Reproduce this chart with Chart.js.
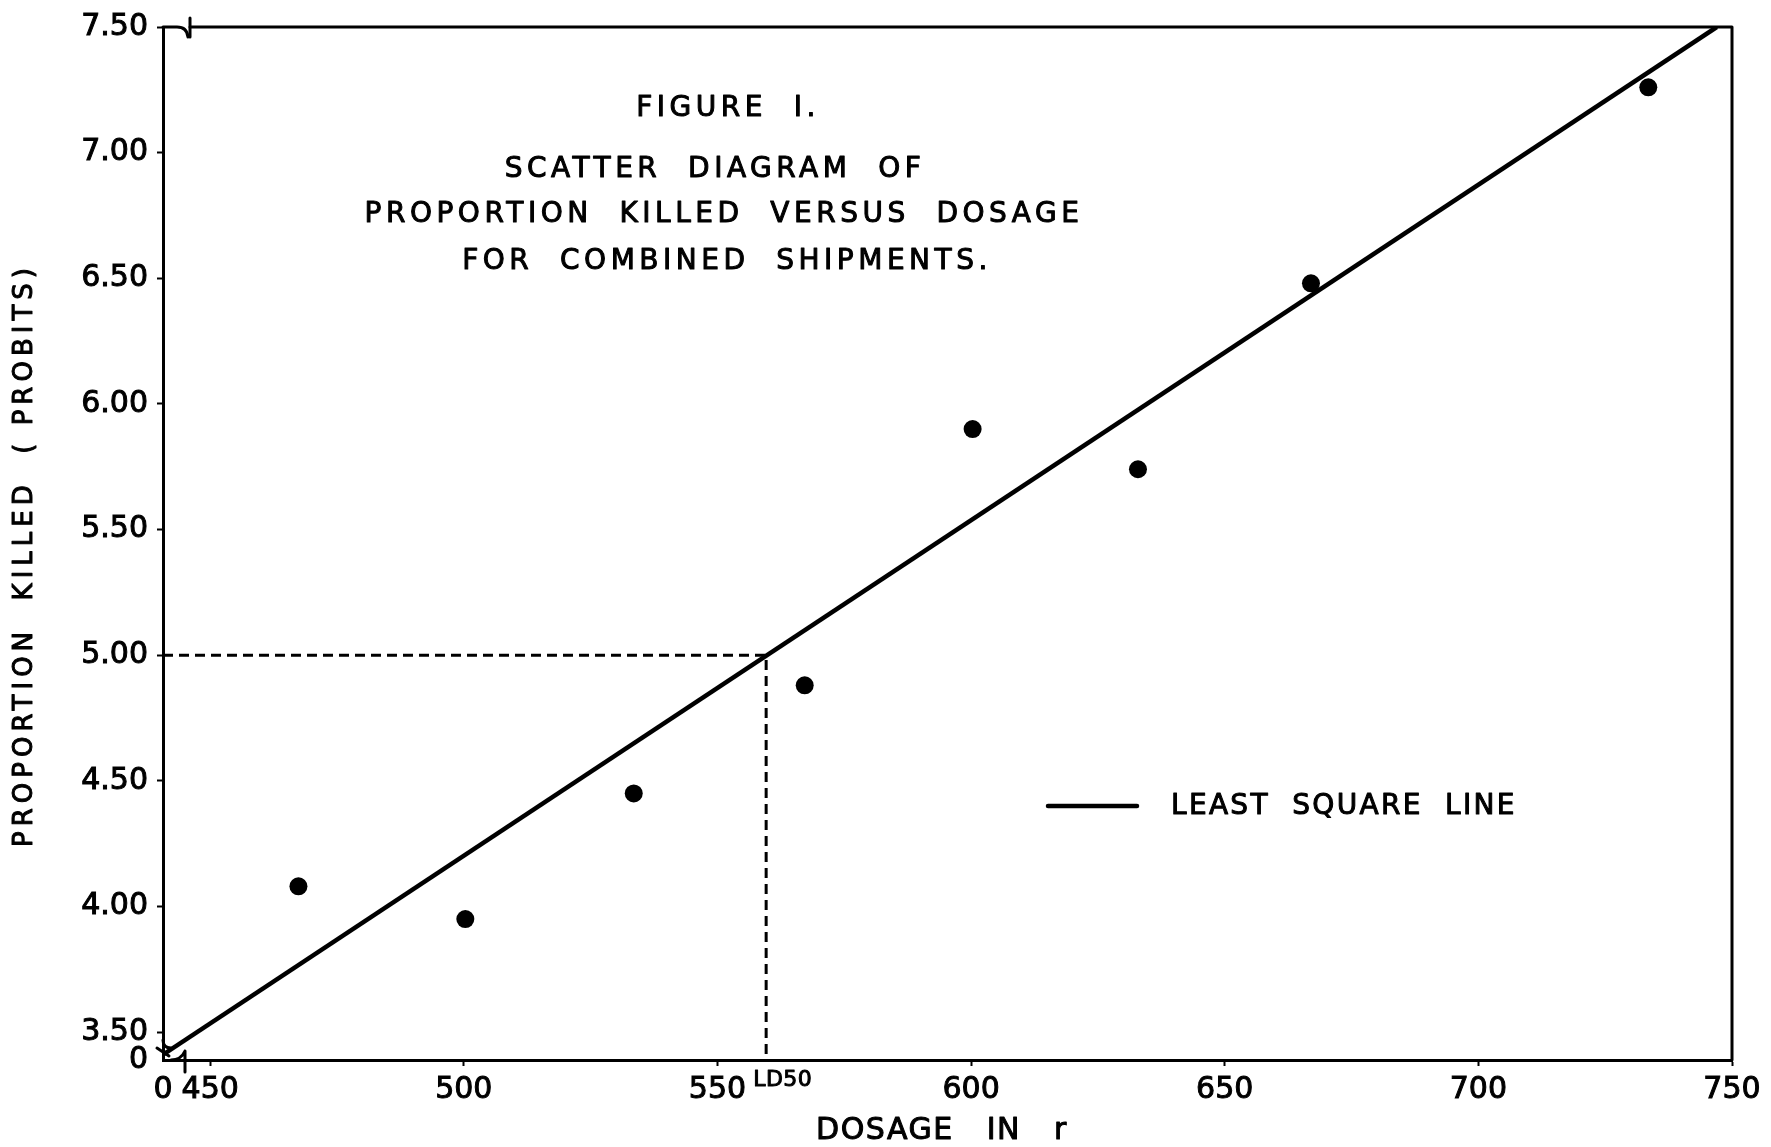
<!DOCTYPE html>
<html>
<head>
<meta charset="utf-8">
<script src="https://cdn.jsdelivr.net/npm/chart.js@4.4.1/dist/chart.umd.min.js"></script>
<style>
  html, body { margin: 0; padding: 0; background: #ffffff; }
  #wrap { position: relative; width: 1771px; height: 1147px; }
</style>
</head>
<body>
<div id="wrap"><canvas id="c" width="1771" height="1147"></canvas></div>
<script>
// ---- data ----
const dosage = [467.4, 500.3, 533.5, 567.2, 600.3, 632.9, 667.0, 733.5];
const probit = [4.08, 3.95, 4.45, 4.88, 5.90, 5.74, 6.48, 7.26];
const fitDosage = [440.7, 747.0];
const fitProbit = [3.41, 7.50];
const ld50Dosage = 559.6;
const ld50Probit = 5.00;
const xTickValues = [450, 500, 550, 600, 650, 700, 750];
const yTickValues = [3.5, 4.0, 4.5, 5.0, 5.5, 6.0, 6.5, 7.0, 7.5];
const xMin = 440.7, xMax = 750;
const yMin = 3.389, yMax = 7.5;
const titleLines = ['FIGURE  I.', 'SCATTER  DIAGRAM  OF', 'PROPORTION  KILLED  VERSUS  DOSAGE', 'FOR  COMBINED  SHIPMENTS.'];
const xAxisTitle = 'DOSAGE   IN   r';
const yAxisTitle = 'PROPORTION  KILLED  ( PROBITS)';
const legendText = 'LEAST  SQUARE  LINE';
const ld50Text = 'LD50';

const FONT = '"DejaVu Sans", "Liberation Sans", sans-serif';

function inkText(ctx, t, x, y) {
  ctx.fillText(t, x, y);
  ctx.strokeText(t, x, y);
}

const decor = {
  id: 'decor',
  afterDraw(chart) {
    const { ctx, chartArea: a, scales } = chart;
    const xs = scales.x;
    ctx.save();
    ctx.strokeStyle = '#000';
    ctx.fillStyle = '#000';
    ctx.lineWidth = 3;
    ctx.lineCap = 'round';
    ctx.lineJoin = 'round';

    // top + right frame
    ctx.beginPath();
    ctx.moveTo(a.left + 27, a.top);
    ctx.lineTo(a.right, a.top);
    ctx.lineTo(a.right, a.bottom);
    ctx.stroke();
    // break mark on top frame
    ctx.beginPath();
    ctx.moveTo(a.left, a.top);
    ctx.lineTo(a.left + 14, a.top);
    ctx.quadraticCurveTo(a.left + 24, a.top, a.left + 25, a.top + 10);
    ctx.stroke();
    ctx.beginPath();
    ctx.moveTo(a.left + 27, a.top - 9);
    ctx.lineTo(a.left + 27, a.top + 10);
    ctx.stroke();
    // break mark on x axis near origin
    ctx.beginPath();
    ctx.moveTo(a.left + 22, a.bottom - 9);
    ctx.quadraticCurveTo(a.left + 18, a.bottom, a.left + 8, a.bottom);
    ctx.moveTo(a.left + 22, a.bottom - 9);
    ctx.lineTo(a.left + 22, a.bottom + 12);
    ctx.stroke();
    // break mark on y axis near origin
    ctx.beginPath();
    ctx.moveTo(a.left, a.bottom - 20);
    ctx.quadraticCurveTo(a.left, a.bottom - 12, a.left + 8, a.bottom - 12);
    ctx.moveTo(a.left - 6, a.bottom - 12);
    ctx.lineTo(a.left + 6, a.bottom - 4);
    ctx.stroke();

    // text ink
    ctx.lineWidth = 1;
    ctx.textAlign = 'center';
    ctx.textBaseline = 'middle';

    // title block inside the plot
    ctx.font = '28px ' + FONT;
    ctx.letterSpacing = '4.5px';
    const tY = [109, 170, 215, 262];
    const tX = [728, 715, 724, 727];
    titleLines.forEach((t, i) => inkText(ctx, t, tX[i], tY[i]));

    // legend
    ctx.lineWidth = 4.5;
    ctx.beginPath();
    ctx.moveTo(1048, 806);
    ctx.lineTo(1137, 806);
    ctx.stroke();
    ctx.lineWidth = 1;
    ctx.textAlign = 'left';
    ctx.letterSpacing = '2.3px';
    inkText(ctx, legendText, 1171, 807);

    // LD50 label under axis
    ctx.font = '22px ' + FONT;
    ctx.letterSpacing = '0.5px';
    inkText(ctx, ld50Text, xs.getPixelForValue(ld50Dosage) - 13, a.bottom + 20);

    // x axis title
    ctx.textAlign = 'center';
    ctx.font = '30px ' + FONT;
    ctx.letterSpacing = '1.5px';
    inkText(ctx, xAxisTitle, 942, 1131);

    // y axis title
    ctx.translate(25, 555);
    ctx.rotate(-Math.PI / 2);
    ctx.font = '26px ' + FONT;
    ctx.letterSpacing = '5px';
    inkText(ctx, yAxisTitle, 0, 0);
    ctx.restore();
  }
};

const chart = new Chart(document.getElementById('c'), {
  type: 'scatter',
  data: {
    datasets: [
      {
        label: 'LD50 guide',
        data: [{ x: xMin, y: ld50Probit }, { x: ld50Dosage, y: ld50Probit }, { x: ld50Dosage, y: yMin }],
        showLine: true, borderColor: '#000', borderWidth: 3, borderDash: [10, 6],
        pointRadius: 0, fill: false
      },
      {
        label: 'LEAST SQUARE LINE',
        data: fitDosage.map((v, i) => ({ x: v, y: fitProbit[i] })),
        showLine: true, borderColor: '#000', borderWidth: 4.5, pointRadius: 0, fill: false
      },
      {
        label: 'Observed',
        data: dosage.map((v, i) => ({ x: v, y: probit[i] })),
        showLine: false, pointRadius: 9, pointBackgroundColor: '#000',
        pointBorderColor: '#000', pointBorderWidth: 0
      }
    ]
  },
  options: {
    responsive: false,
    animation: false,
    devicePixelRatio: 1,
    layout: { padding: { top: 22, right: 39, left: 0, bottom: 0 } },
    plugins: { legend: { display: false }, tooltip: { enabled: false } },
    scales: {
      x: {
        type: 'linear', position: 'bottom', min: xMin, max: xMax,
        afterBuildTicks: s => { s.ticks = [xMin, ...xTickValues].map(v => ({ value: v })); },
        afterFit: s => { s.height = 87; },
        ticks: {
          autoSkip: false, maxRotation: 0, color: '#000', padding: 6,
          textStrokeColor: '#000', textStrokeWidth: 1,
          font: { family: FONT, size: 30 },
          callback: v => (v === xMin ? '0' : String(v))
        },
        grid: {
          drawOnChartArea: false, drawTicks: true, tickLength: 6, tickWidth: 2,
          tickColor: c => (c.tick && c.tick.value === xMin ? 'rgba(0,0,0,0)' : '#000')
        },
        border: { display: true, color: '#000', width: 3 }
      },
      y: {
        type: 'linear', position: 'left', min: yMin, max: yMax,
        afterBuildTicks: s => { s.ticks = [yMin, ...yTickValues].map(v => ({ value: v })); },
        afterFit: s => { s.width = 163; },
        ticks: {
          autoSkip: false, color: '#000', padding: 9,
          textStrokeColor: '#000', textStrokeWidth: 1,
          font: { family: FONT, size: 30 },
          callback: v => (v === yMin ? '0' : v.toFixed(2))
        },
        grid: {
          drawOnChartArea: false, drawTicks: true, tickLength: 6, tickWidth: 2,
          tickColor: c => (c.tick && c.tick.value === yMin ? 'rgba(0,0,0,0)' : '#000')
        },
        border: { display: true, color: '#000', width: 3 }
      }
    }
  },
  plugins: [decor]
});
</script>
</body>
</html>
